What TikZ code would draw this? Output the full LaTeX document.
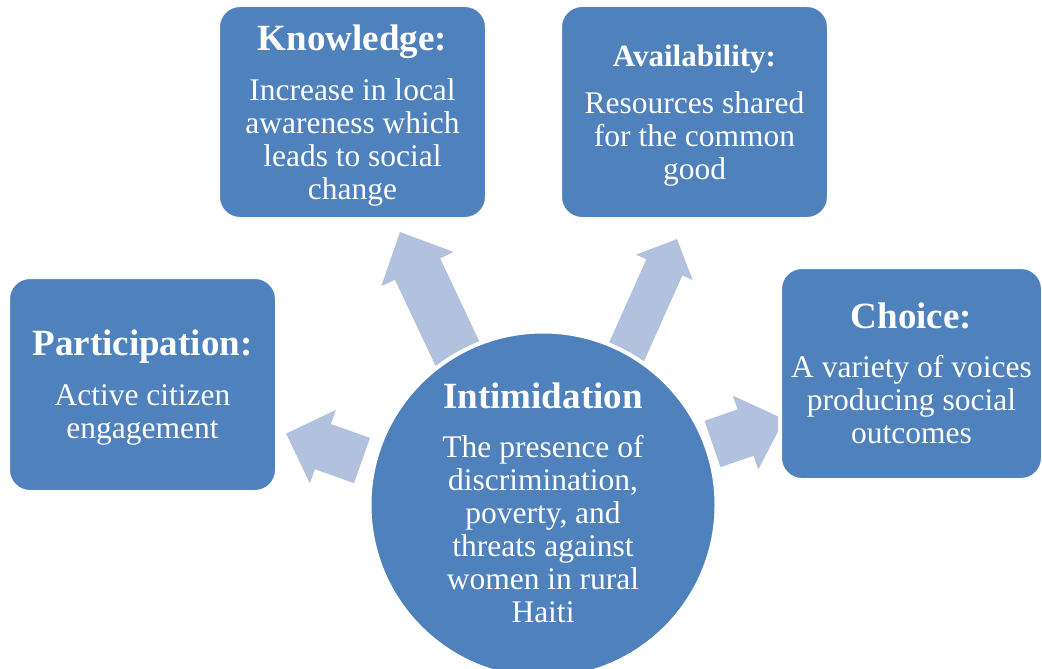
\documentclass[tikz,border=0pt]{standalone}
\usepackage{fontspec}
\setmainfont{Liberation Serif}

\definecolor{boxblue}{RGB}{79,129,189}
\definecolor{arrowblue}{RGB}{177,193,222}

\newcommand{\bodyfont}{\fontsize{31.5}{33}\selectfont}
\newcommand{\headfont}{\fontsize{37}{40}\selectfont\bfseries}
\newcommand{\smallheadfont}{\fontsize{31}{34}\selectfont\bfseries}

\tikzset{
  panel/.style={rectangle, rounded corners=22pt, fill=boxblue, draw=white,
    line width=4pt, text=white, align=center, font=\bodyfont, inner sep=0pt},
  hub/.style={circle, fill=boxblue, draw=white, line width=4pt,
    minimum size=347pt, inner sep=0pt, text=white, align=center, font=\bodyfont},
  flowarrow/.style={fill=arrowblue, draw=none},
  % block arrow: shaft length, shaft width, head length, head width
  pics/blockarrow/.style n args={4}{code={
    \fill[flowarrow] (0,{-#2/2}) -- (#1,{-#2/2}) -- (#1,{-#4/2}) -- ({#1+#3},0)
      -- (#1,{#4/2}) -- (#1,{#2/2}) -- (0,{#2/2}) -- cycle;
  }},
}

\begin{document}
\begin{tikzpicture}[x=1pt, y=-1pt]
\useasboundingbox (0,0) rectangle (1042,669);
\clip (0,0) rectangle (1042,669);

% arrows radiating from the centre
\pic[rotate=115.3] (toKnowledge) at (464.5,368.5) {blockarrow={110}{50}{41}{80}};
\pic[rotate=65.9] (toAvailability) at (621.5,363.2) {blockarrow={105}{39.5}{31}{62}};
\pic[rotate=160.5] (toParticipation) at (362,460.5) {blockarrow={41.5}{48}{39}{78}};
\pic[rotate=19] (toChoice) at (712.5,444) {blockarrow={35}{49}{41}{78}};

% central circle
\node[hub, text depth=4pt] (hub) at (543,505)
  {{\headfont Intimidation}\\[16pt]The presence of\\discrimination,\\poverty, and\\threats against\\women in rural\\Haiti};

% outer boxes
\node[panel, text depth=0.5pt, minimum width=269pt, minimum height=214pt] (knowledge) at (352.5,112)
  {{\headfont Knowledge:}\\[17pt]Increase in local\\awareness which\\leads to social\\change};
\node[panel, text depth=0.5pt, minimum width=269pt, minimum height=214pt] (availability) at (694.5,112)
  {{\smallheadfont Availability:}\\[14pt]Resources shared\\for the common\\good};
\node[panel, text depth=-1.5pt, minimum width=269pt, minimum height=215pt] (participation) at (142.5,384.5)
  {{\headfont Participation:}\\[17pt]Active citizen\\engagement};
\node[panel, text depth=-2pt, minimum width=263pt, minimum height=213pt] (choice) at (911.5,373.5)
  {{\headfont Choice:}\\[16pt]A variety of voices\\producing social\\outcomes};
\end{tikzpicture}
\end{document}
